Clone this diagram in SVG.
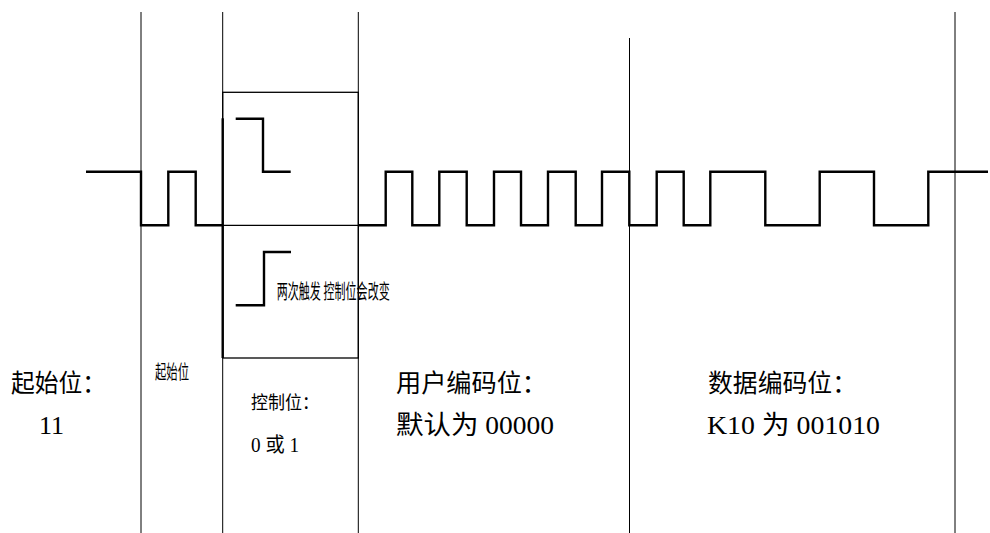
<svg xmlns="http://www.w3.org/2000/svg" width="990" height="533" viewBox="0 0 990 533">
<style>
.grid{stroke:#000;stroke-width:1;fill:none}
.box{stroke:#000;stroke-width:1.3;fill:none}
.wave{stroke:#000;stroke-width:2.4;fill:none;stroke-linejoin:miter;stroke-linecap:butt}
.t{font-family:"Liberation Serif","Noto Sans CJK SC","Noto Serif",serif;fill:#000}
</style>
<rect width="990" height="533" fill="#fff"/>
<g id="grid-lines">
<line class="grid" x1="141" y1="12" x2="141" y2="533"/>
<line class="grid" x1="222.7" y1="12" x2="222.7" y2="533"/>
<line class="grid" x1="358.3" y1="12" x2="358.3" y2="533"/>
<line class="grid" x1="629.5" y1="38" x2="629.5" y2="533"/>
<line class="grid" x1="955" y1="12" x2="955" y2="533"/>
</g>
<g id="control-box">
<rect class="box" x="222.7" y="92.3" width="135.6" height="265.7"/>
<line class="box" x1="222.7" y1="225.3" x2="358.3" y2="225.3"/>
<line class="wave" x1="222.7" y1="118.3" x2="222.7" y2="358"/>
<path class="wave" d="M235.7,118.7 H263 V171.7 H290.7"/>
<path class="wave" d="M235.7,305.3 H264 V252 H291"/>
<text class="t" x="276.7" y="299" font-size="20" textLength="113" lengthAdjust="spacingAndGlyphs">两次触发 控制位会改变</text>
</g>
<g id="waveform">
<path class="wave" d="M86,171.7 H141 V225.3 H168.3 V171.7 H195.7 V225.3 H222.7"/>
<path class="wave" d="M358.3,225.3 H385.7 V171.7 H412.3 V225.3 H439.3 V171.7 H466.7 V225.3 H494 V171.7 H521 V225.3 H548 V171.7 H575.7 V225.3 H602 V171.7 H629.3 V225.3 H656.7 V171.7 H683.7 V225.3 H710.3 V171.7 H765.3 V225.3 H819.7 V171.7 H874 V225.3 H928.3 V171.7 H988"/>
</g>
<g id="label-start">
<text class="t" x="11" y="392" font-size="25" textLength="95" lengthAdjust="spacingAndGlyphs">起始位：</text>
<text class="t" x="39" y="433.5" font-size="26">11</text>
<text class="t" x="155" y="379" font-size="19" textLength="34" lengthAdjust="spacingAndGlyphs">起始位</text>
</g>
<g id="label-control">
<text class="t" x="251" y="409" font-size="18" textLength="68" lengthAdjust="spacingAndGlyphs">控制位：</text>
<text class="t" x="251" y="451.5" font-size="20" textLength="48" lengthAdjust="spacingAndGlyphs">0 或 1</text>
</g>
<g id="label-user">
<text class="t" x="396" y="392" font-size="25" textLength="151" lengthAdjust="spacingAndGlyphs">用户编码位：</text>
<text class="t" x="396" y="434" font-size="26" textLength="158" lengthAdjust="spacingAndGlyphs">默认为 00000</text>
</g>
<g id="label-data">
<text class="t" x="708" y="392" font-size="25" textLength="149" lengthAdjust="spacingAndGlyphs">数据编码位：</text>
<text class="t" x="707" y="434" font-size="26" textLength="173" lengthAdjust="spacingAndGlyphs">K10 为 001010</text>
</g>
</svg>
